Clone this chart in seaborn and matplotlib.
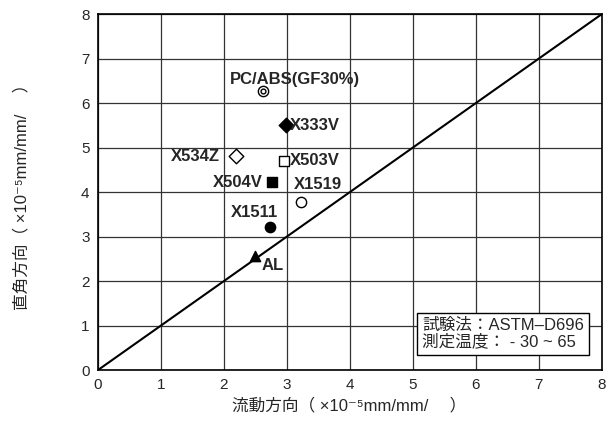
import matplotlib
matplotlib.use('Agg')
import matplotlib.pyplot as plt
import seaborn as sns
import pandas as pd

# material data (flow direction, transverse direction)
names = ['PC/ABS(GF30%)', 'X333V', 'X534Z', 'X503V', 'X504V', 'X1519', 'X1511', 'AL']
flow = [2.62, 2.98, 2.2, 2.95, 2.76, 3.22, 2.73, 2.5]
cross = [6.27, 5.5, 4.8, 4.7, 4.22, 3.78, 3.21, 2.56]
markers = ['o', 'D', 'D', 's', 's', 'o', 'o', '^']
filled = [False, True, False, False, True, False, True, True]
ticks = [0, 1, 2, 3, 4, 5, 6, 7, 8]

df = pd.DataFrame({'name': names, 'flow': flow, 'cross': cross})

sns.set_style('white')
plt.rcParams['font.family'] = ['Liberation Sans', 'Noto Sans CJK JP', 'DejaVu Sans']

fig = plt.figure(figsize=(6.08, 4.38), dpi=100)
ax = fig.add_axes([0.161, 0.155, 0.829, 0.813])

ax.plot([0, 8], [0, 8], color='black', lw=1.5, zorder=2)

for i, row in df.iterrows():
    fc = 'black' if filled[i] else 'white'
    sns.scatterplot(x=[row['flow']], y=[row['cross']], marker=markers[i], s=55,
                    color=fc, edgecolor='black', linewidth=1, ax=ax, zorder=3)
# inner ring of the double circle
sns.scatterplot(x=[flow[0]], y=[cross[0]], marker='o', s=12, color='white',
                edgecolor='black', linewidth=1, ax=ax, zorder=4)

offsets = {
    'PC/ABS(GF30%)': (0.5, 0.27, 'center'),
    'X333V': (0.06, 0.0, 'left'),
    'X534Z': (-0.26, 0.0, 'right'),
    'X503V': (0.1, 0.0, 'left'),
    'X504V': (-0.15, 0.0, 'right'),
    'X1519': (-0.11, 0.38, 'left'),
    'X1511': (-0.24, 0.34, 'center'),
    'AL': (0.1, -0.2, 'left'),
}
for n, x, y in zip(names, flow, cross):
    dx, dy, ha = offsets[n]
    ax.text(x + dx, y + dy, n, ha=ha, va='center', fontsize=12, fontweight='bold')

ax.set_xlim(0, 8)
ax.set_ylim(0, 8)
ax.set_xticks(ticks)
ax.set_yticks(ticks)
ax.grid(True, color='#333333', lw=0.9)
ax.tick_params(labelsize=11, length=0, pad=6)
for s in ax.spines.values():
    s.set_color('black')
    s.set_linewidth(1.2)

fam = ['Liberation Sans', 'Noto Sans CJK JP', 'DejaVu Sans']
fig.text(0.575, 0.075, '流動方向（ ×10⁻⁵mm/mm/　 ）', ha='center', va='center',
         fontsize=12, family=fam)
fig.text(0.035, 0.56, '直角方向（ ×10⁻⁵mm/mm/　 ）', ha='center', va='center',
         fontsize=12, family=fam, rotation=90)

ax.text(5.15, 0.82, '試験法：ASTM–D696\n測定温度： - 30 ~ 65', fontsize=12, family=fam,
        linespacing=1.1, va='center',
        bbox=dict(boxstyle='square,pad=0.3', fc='white', ec='black', lw=1))

fig.savefig('out.png', dpi=100)
